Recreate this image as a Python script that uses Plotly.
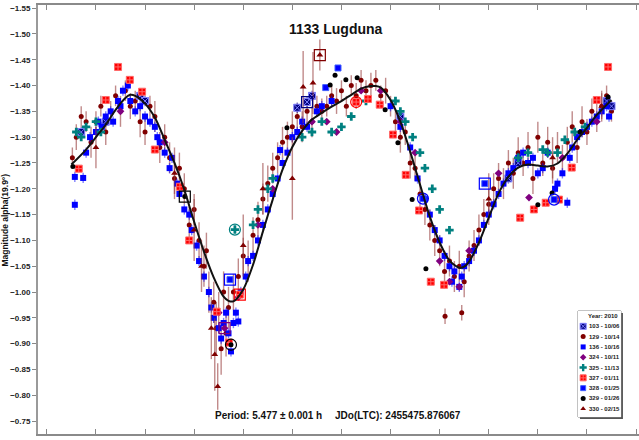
import plotly.graph_objects as go

# ---------------- data (rotational phase vs. reduced magnitude) ----------------
# Fourier fit
fit_phase = [-0.05, -0.02, 0.00, 0.02, 0.04, 0.06, 0.07, 0.08, 0.10, 0.12, 0.14, 0.16, 0.18, 0.20,
             0.22, 0.24, 0.26, 0.27, 0.28, 0.30, 0.32, 0.34, 0.36, 0.38, 0.40, 0.42, 0.44, 0.46,
             0.48, 0.50, 0.52, 0.54, 0.56, 0.57, 0.58, 0.60, 0.62, 0.64, 0.66, 0.68, 0.70, 0.72,
             0.74, 0.75, 0.76, 0.78, 0.80, 0.82, 0.84, 0.86, 0.88, 0.90, 0.92, 0.94, 0.96, 0.98,
             1.00, 1.02, 1.05]
fit_mag = [-1.247, -1.276, -1.300, -1.324, -1.353, -1.376, -1.382, -1.380, -1.365, -1.338, -1.295,
           -1.250, -1.198, -1.136, -1.078, -1.028, -0.991, -0.983, -0.982, -1.005, -1.053, -1.117,
           -1.179, -1.237, -1.281, -1.312, -1.334, -1.347, -1.359, -1.370, -1.382, -1.394, -1.399,
           -1.399, -1.396, -1.372, -1.330, -1.272, -1.208, -1.146, -1.096, -1.061, -1.047, -1.049,
           -1.059, -1.096, -1.144, -1.191, -1.223, -1.241, -1.247, -1.245, -1.243, -1.249, -1.268,
           -1.295, -1.318, -1.343, -1.372]

# session 103 - 10/06
p103 = [-0.03, 0.02, 0.09, 0.10, 0.41, 0.43, 0.44, 0.62, 0.84, 0.86, 1.04, 1.05]
m103 = [-1.31, -1.33, -1.38, -1.37, -1.357, -1.368, -1.38, -1.34, -1.22, -1.25, -1.37, -1.36]
e103 = [0.010] * len(p103)

# session 129 - 10/14
p129 = [-0.048, -0.04, -0.03, -0.02, -0.01, 0.00, 0.01, 0.02, 0.03, 0.04, 0.05, 0.06, 0.07, 0.08,
        0.09, 0.10, 0.11, 0.12, 0.13, 0.14, 0.15, 0.16, 0.17, 0.18, 0.19, 0.20, 0.21, 0.22, 0.225,
        0.23, 0.24, 0.245, 0.25, 0.255, 0.26, 0.265, 0.27, 0.28, 0.29, 0.30, 0.31, 0.32, 0.33, 0.34,
        0.35, 0.36, 0.37, 0.38, 0.39, 0.40, 0.41, 0.42, 0.43, 0.44, 0.45, 0.46, 0.47, 0.48, 0.49,
        0.50, 0.51, 0.52, 0.53, 0.54, 0.55, 0.56, 0.57, 0.58, 0.59, 0.60, 0.61, 0.62, 0.63, 0.64,
        0.65, 0.66, 0.67, 0.68, 0.69, 0.70, 0.71, 0.711, 0.72, 0.73, 0.74, 0.745, 0.75, 0.76, 0.77,
        0.78, 0.79, 0.80, 0.81, 0.82, 0.83, 0.84, 0.85, 0.86, 0.87, 0.88, 0.89, 0.90, 0.91, 0.92,
        0.93, 0.94, 0.95, 0.96, 0.97, 0.98, 0.99, 1.00, 1.01, 1.02, 1.03, 1.04, 1.05]
m129 = [-1.26, -1.30, -1.34, -1.33, -1.29, -1.33, -1.36, -1.31, -1.35, -1.38, -1.35, -1.39, -1.36,
        -1.37, -1.33, -1.31, -1.36, -1.34, -1.28, -1.30, -1.26, -1.22, -1.24, -1.20, -1.13, -1.16,
        -1.10, -1.05, -1.08, -1.00, -0.98, -0.93, -0.96, -0.89, -1.00, -0.92, -0.97, -1.00, -1.03,
        -1.07, -1.06, -1.11, -1.14, -1.18, -1.21, -1.24, -1.26, -1.29, -1.30, -1.32, -1.34, -1.32,
        -1.35, -1.33, -1.36, -1.35, -1.36, -1.38, -1.37, -1.39, -1.36, -1.40, -1.38, -1.41, -1.39,
        -1.40, -1.41, -1.38, -1.39, -1.36, -1.33, -1.30, -1.31, -1.25, -1.24, -1.19, -1.16, -1.13,
        -1.10, -1.08, -1.04, -0.953, -1.06, -1.03, -1.05, -0.96, -1.02, -1.07, -1.09, -1.12, -1.15,
        -1.17, -1.20, -1.22, -1.21, -1.25, -1.23, -1.27, -1.25, -1.28, -1.22, -1.30, -1.25, -1.29,
        -1.24, -1.28, -1.26, -1.29, -1.32, -1.28, -1.33, -1.31, -1.35, -1.34, -1.36, -1.38, -1.35]
e129 = [0.02, 0.025, 0.02, 0.02, 0.03, 0.02, 0.02, 0.025, 0.02, 0.02, 0.03, 0.02, 0.025, 0.02,
        0.03, 0.025, 0.02, 0.03, 0.03, 0.025, 0.03, 0.03, 0.03, 0.03, 0.035, 0.03, 0.035, 0.04,
        0.035, 0.04, 0.04, 0.05, 0.04, 0.05, 0.04, 0.045, 0.04, 0.035, 0.035, 0.035, 0.04, 0.035,
        0.035, 0.03, 0.035, 0.03, 0.03, 0.03, 0.03, 0.03, 0.025, 0.03, 0.025, 0.03, 0.02, 0.025,
        0.02, 0.02, 0.025, 0.02, 0.02, 0.02, 0.025, 0.02, 0.02, 0.025, 0.02, 0.02, 0.025, 0.02,
        0.025, 0.03, 0.025, 0.03, 0.025, 0.03, 0.03, 0.03, 0.03, 0.03, 0.03, 0.015, 0.03, 0.03,
        0.03, 0.015, 0.03, 0.03, 0.03, 0.03, 0.03, 0.03, 0.03, 0.03, 0.03, 0.025, 0.03, 0.03, 0.025,
        0.03, 0.03, 0.03, 0.025, 0.03, 0.03, 0.03, 0.025, 0.03, 0.03, 0.03, 0.03, 0.025, 0.025,
        0.03, 0.025, 0.02, 0.02]

# session 136 - 10/16
p136 = [-0.043, -0.043, -0.026, -0.02, -0.012, 0.00, 0.005, 0.012, 0.02, 0.03, 0.035, 0.045, 0.05,
        0.055, 0.065, 0.07, 0.08, 0.09, 0.10, 0.11, 0.12, 0.125, 0.13, 0.14, 0.15, 0.155, 0.165,
        0.17, 0.18, 0.19, 0.195, 0.205, 0.21, 0.22, 0.23, 0.235, 0.24, 0.25, 0.255, 0.26, 0.265,
        0.27, 0.275, 0.28, 0.285, 0.29, 0.295, 0.305, 0.31, 0.32, 0.33, 0.34, 0.35, 0.36, 0.37,
        0.375, 0.38, 0.39, 0.40, 0.41, 0.42, 0.43, 0.45, 0.46, 0.48, 0.60, 0.62, 0.64, 0.655, 0.67,
        0.68, 0.69, 0.70, 0.71, 0.72, 0.725, 0.73, 0.74, 0.745, 0.75, 0.76, 0.77, 0.78, 0.79, 0.80,
        0.81, 0.82, 0.83, 0.84, 0.85, 0.86, 0.87, 0.88, 0.89, 0.90, 0.91, 0.92, 0.935, 0.94, 0.95,
        0.96, 0.965, 0.97, 0.98, 0.99, 1.00, 1.01, 1.02, 1.03, 1.04, 1.045]
m136 = [-1.169, -1.223, -1.221, -1.27, -1.30, -1.31, -1.33, -1.32, -1.34, -1.35, -1.33, -1.37,
        -1.36, -1.39, -1.40, -1.37, -1.35, -1.36, -1.34, -1.33, -1.32, -1.30, -1.29, -1.27, -1.24,
        -1.26, -1.21, -1.19, -1.16, -1.15, -1.12, -1.09, -1.06, -1.03, -1.00, -0.97, -0.95, -0.93,
        -0.91, -0.94, -0.96, -0.92, -0.885, -0.94, -0.96, -0.943, -1.00, -1.03, -1.06, -1.07, -1.10,
        -1.13, -1.16, -1.19, -1.22, -1.275, -1.25, -1.27, -1.30, -1.31, -1.33, -1.32, -1.35, -1.36,
        -1.37, -1.36, -1.32, -1.28, -1.22, -1.18, -1.15, -1.12, -1.10, -1.07, -1.05, -1.02, -1.04,
        -1.01, -1.03, -1.05, -1.06, -1.08, -1.10, -1.13, -1.15, -1.17, -1.19, -1.21, -1.23, -1.24,
        -1.26, -1.27, -1.25, -1.26, -1.23, -1.24, -1.27, -1.20, -1.21, -1.23, -1.173, -1.26, -1.28,
        -1.30, -1.31, -1.32, -1.33, -1.34, -1.35, -1.36, -1.34]
e136 = [0.010] * len(p136)

# session 324 - 10/11
p324 = [0.05, 0.14, 0.25, 0.262, 0.29, 0.33, 0.36, 0.44, 0.47, 0.49, 0.54, 0.58, 0.62, 0.65, 0.70,
        0.72, 0.74, 0.76, 0.82, 0.882, 0.95, 1.02]
m324 = [-1.35, -1.29, -0.96, -0.93, -0.99, -1.13, -1.20, -1.33, -1.33, -1.31, -1.39, -1.39, -1.33,
        -1.27, -1.06, -1.02, -1.01, -1.08, -1.23, -1.183, -1.26, -1.33]

# session 325 - 11/13
p325 = [-0.04, -0.03, -0.02, 0.00, 0.01, 0.283, 0.32, 0.33, 0.35, 0.36, 0.42, 0.44, 0.46, 0.48,
        0.50, 0.52, 0.55, 0.61, 0.62, 0.63, 0.645, 0.66, 0.67, 0.685, 0.70, 0.72, 0.86, 0.88, 0.91,
        0.92, 0.94, 0.955, 0.975, 0.996]
m325 = [-1.31, -1.30, -1.32, -1.33, -1.31, -1.121, -1.13, -1.16, -1.20, -1.22, -1.30, -1.31, -1.33,
        -1.31, -1.32, -1.34, -1.37, -1.37, -1.35, -1.33, -1.30, -1.27, -1.24, -1.20, -1.16, -1.12,
        -1.26, -1.27, -1.276, -1.27, -1.27, -1.295, -1.31, -1.32]

# session 327 - 01/11
p327 = [-0.035, 0.02, 0.045, 0.069, 0.094, 0.12, 0.171, 0.19, 0.246, 0.271, 0.293, 0.53, 0.554,
        0.578, 0.605, 0.631, 0.658, 0.682, 0.709, 0.864, 0.892, 0.916, 0.943, 0.969, 1.02, 1.043]
m327 = [-1.239, -1.372, -1.436, -1.411, -1.388, -1.276, -1.204, -1.10, -0.962, -0.902, -0.995,
        -1.368, -1.374, -1.363, -1.305, -1.227, -1.158, -1.020, -1.014, -1.144, -1.160, -1.173,
        -1.179, -1.241, -1.372, -1.436]

# session 328 - 01/25
p328 = [0.273, 0.468, 0.493, 0.666, 0.792, 0.933]
m328 = [-1.024, -1.396, -1.434, -1.181, -1.210, -1.179]

# session 329 - 01/26
p329 = [-0.047, 0.181, 0.275, 0.389, 0.477, 0.487, 0.509, 0.532, 0.589, 0.615, 0.644, 0.672, 0.90,
        0.929, 0.986, 1.043]
m329 = [-1.243, -1.185, -0.898, -1.318, -1.401, -1.42, -1.411, -1.415, -1.353, -1.289, -1.179,
        -1.045, -1.169, -1.192, -1.31, -1.378]

# session 330 - 02/15
p330 = [0.00, 0.16, 0.20, 0.215, 0.235, 0.242, 0.248, 0.30, 0.34, 0.40, 0.422, 0.442, 0.456, 0.80,
        0.93, 1.03]
m330 = [-1.28, -1.23, -1.12, -1.05, -0.93, -0.879, -0.817, -1.09, -1.20, -1.22, -1.397, -1.405,
        -1.459, -1.18, -1.26, -1.36]
e330 = [0.04, 0.05, 0.06, 0.05, 0.06, 0.07, 0.045, 0.06, 0.05, 0.08, 0.07, 0.06, 0.03, 0.05, 0.04,
        0.03]

# first-point markers of each night (open squares / circles)
box_phase = [0.181, 0.456, 0.792, 0.273, 0.293, 0.43, 0.262]
box_mag = [-1.185, -1.459, -1.210, -1.024, -0.995, -1.368, -0.930]
box_color = ["#000000", "#800000", "#0000FF", "#0000FF", "#FF0000", "#000080", "#800080"]
ring_phase = [0.283, 0.275, 0.53, 0.666, 0.933]
ring_mag = [-1.121, -0.898, -1.368, -1.181, -1.179]
ring_color = ["#008080", "#000000", "#FF0000", "#0000FF", "#0000FF"]

legend_title = "Year: 2010"
legend_labels = ["103 - 10/06", "129 - 10/14", "136 - 10/16", "324 - 10/11", "325 - 11/13",
                 "327 - 01/11", "328 - 01/25", "329 - 01/26", "330 - 02/15"]

FONT = "Liberation Sans Narrow, Arial Narrow, Liberation Sans, Arial, sans-serif"

# marker styles per session
styles = {
    "103": dict(symbol="square-x", color="#000080", size=7, line=dict(color="#8080ff", width=1)),
    "129": dict(symbol="circle", color="#800000", size=5, line=dict(width=0)),
    "136": dict(symbol="square", color="#0000FF", size=6, line=dict(width=0)),
    "324": dict(symbol="diamond", color="#800080", size=6, line=dict(width=0)),
    "325": dict(symbol="cross", color="#008080", size=7, line=dict(width=0)),
    "327": dict(symbol="square-cross", color="#FF0000", size=7, line=dict(color="#ff6a6a", width=1)),
    "328": dict(symbol="square", color="#0000FF", size=6, line=dict(color="#4060ff", width=1)),
    "329": dict(symbol="circle", color="#000000", size=5, line=dict(width=0)),
    "330": dict(symbol="triangle-up", color="#800000", size=6, line=dict(width=0)),
}

fig = go.Figure()


def add_series(key, px, py, err=None, err_color=None):
    st = styles[key]
    kw = {}
    if err is not None:
        kw["error_y"] = dict(type="data", array=err, visible=True, color=err_color,
                             thickness=1.4, width=0)
    fig.add_trace(go.Scatter(x=px, y=py, mode="markers", marker=st, showlegend=False,
                             hoverinfo="skip", **kw))


add_series("129", p129, m129, e129, "rgba(150,60,60,0.6)")
add_series("103", p103, m103, e103, "rgba(0,0,128,0.5)")
add_series("136", p136, m136, e136, "rgba(0,0,255,0.5)")
add_series("324", p324, m324)
add_series("325", p325, m325)
add_series("327", p327, m327)
add_series("328", p328, m328)
add_series("329", p329, m329)
add_series("330", p330, m330, e330, "rgba(150,60,60,0.6)")

fig.add_trace(go.Scatter(x=box_phase, y=box_mag, mode="markers", showlegend=False, hoverinfo="skip",
                         marker=dict(symbol="square-open", size=11, color=box_color,
                                     line=dict(width=1.2))))
fig.add_trace(go.Scatter(x=ring_phase, y=ring_mag, mode="markers", showlegend=False, hoverinfo="skip",
                         marker=dict(symbol="circle-open", size=11, color=ring_color,
                                     line=dict(width=1.2))))

# Fourier fit curve
fig.add_trace(go.Scatter(x=fit_phase, y=fit_mag, mode="lines", showlegend=False, hoverinfo="skip",
                         line=dict(color="#111111", width=2, shape="spline", smoothing=0.8)))

# ---------------- legend (drawn in its own small axes) ----------------
leg_keys = ["103", "129", "136", "324", "325", "327", "328", "329", "330"]
leg_rows = list(range(1, len(leg_keys) + 1))
for key, row in zip(leg_keys, leg_rows):
    st = dict(styles[key])
    st["size"] = max(st["size"] - 1, 5)
    fig.add_trace(go.Scatter(x=[0.12], y=[row], mode="markers", marker=st, showlegend=False,
                             hoverinfo="skip", xaxis="x2", yaxis="y2"))

annotations = []
annotations.append(dict(x=0.97, y=0, xref="x2", yref="y2", text="<b>%s</b>" % legend_title,
                        showarrow=False, xanchor="right", yanchor="middle",
                        font=dict(family=FONT, size=6, color="#222222")))
for lab, row in zip(legend_labels, leg_rows):
    annotations.append(dict(x=0.22, y=row, xref="x2", yref="y2", text="<b>%s</b>" % lab,
                            showarrow=False, xanchor="left", yanchor="middle",
                            font=dict(family=FONT, size=6, color="#222222")))

# title, fit info, y-axis title
annotations.append(dict(x=0.496, y=0.944, xref="paper", yref="paper", text="<b>1133 Lugduna</b>",
                        showarrow=False, xanchor="center", yanchor="middle",
                        font=dict(family=FONT, size=14, color="#111111")))
annotations.append(dict(x=0.476, y=0.044, xref="paper", yref="paper",
                        text="<b>Period: 5.477 ± 0.001 h</b>", showarrow=False,
                        xanchor="right", yanchor="middle",
                        font=dict(family=FONT, size=10, color="#111111")))
annotations.append(dict(x=0.491, y=0.044, xref="paper", yref="paper",
                        text="<b>JDo(LTC): 2455475.876067</b>", showarrow=False,
                        xanchor="left", yanchor="middle",
                        font=dict(family=FONT, size=10, color="#111111")))
annotations.append(dict(x=-0.0555, y=0.499, xref="paper", yref="paper",
                        text="<b>Magnitude alpha(19.9°)</b>", showarrow=False, textangle=-90,
                        xanchor="center", yanchor="middle",
                        font=dict(family=FONT, size=8.5, color="#111111")))

shapes = [
    # legend frame with drop shadow
    dict(type="rect", xref="paper", yref="paper", x0=0.9018, x1=0.9733, y0=0.0350, y1=0.2820,
         fillcolor="#555555", line=dict(width=0), layer="below"),
    dict(type="rect", xref="paper", yref="paper", x0=0.8985, x1=0.9700, y0=0.0396, y1=0.2867,
         fillcolor="white", line=dict(color="#888888", width=1), layer="below"),
]

fig.update_layout(
    width=639, height=440,
    margin=dict(l=38, r=0, t=5, b=6),
    paper_bgcolor="white", plot_bgcolor="white",
    showlegend=False,
    annotations=annotations,
    shapes=shapes,
    xaxis=dict(range=[-0.118, 1.106], showgrid=False, zeroline=False, showticklabels=False,
               tick0=0, dtick=0.1, ticks="inside", ticklen=5, tickcolor="#888888",
               showline=True, linecolor="#8a8a8a", linewidth=2, mirror="ticks"),
    yaxis=dict(range=[-0.725, -1.556], showgrid=False, zeroline=False,
               tick0=-1.5, dtick=0.05, tickformat=".2f", ticks="outside", ticklen=4,
               tickcolor="#888888", showline=True, linecolor="#9a9a9a", linewidth=2,
               tickfont=dict(family=FONT, size=8, color="#222222", weight="bold")),
    xaxis2=dict(domain=[0.8985, 0.9700], range=[0, 1], visible=False, anchor="y2"),
    yaxis2=dict(domain=[0.0396, 0.2867], range=[9.8, -0.485], visible=False, anchor="x2"),
)

fig.write_html("out.html")
